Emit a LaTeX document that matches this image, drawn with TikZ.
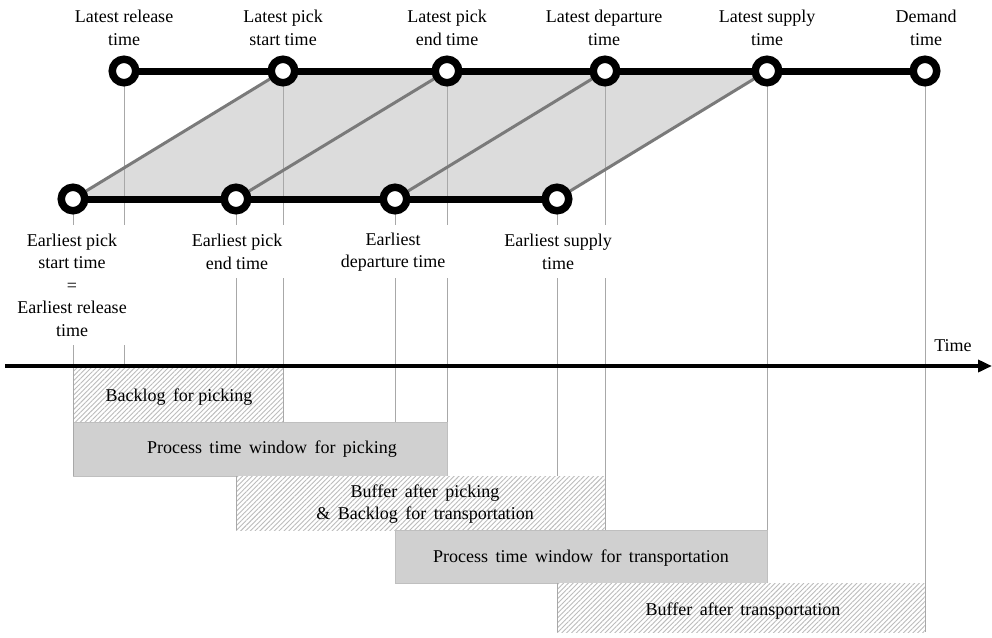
\documentclass[tikz,border=0pt]{standalone}
\usepackage{fontspec}
\setmainfont{Liberation Serif}
\usetikzlibrary{arrows.meta,patterns.meta}
\definecolor{guide}{HTML}{A8A8A8}
\definecolor{diag}{HTML}{7A7A7A}
\definecolor{para}{HTML}{DCDCDC}
\definecolor{procfill}{HTML}{D0D0D0}
\definecolor{hatchc}{HTML}{BCBCBC}
\tikzset{
  every node/.style={font=\fontsize{18}{22.5}\selectfont, align=center, inner sep=0pt},
  tnode/.style={circle, draw=black, fill=white, line width=7.5pt, minimum size=23.5pt, inner sep=0pt},
  thick line/.style={line width=7pt},
  diagline/.style={draw=diag, line width=3pt},
  guideline/.style={draw=guide, line width=1pt},
  hatchbox/.style={fill=white, postaction={pattern={Lines[angle=45,distance=3.4pt,line width=0.9pt]}, pattern color=hatchc}},
  procbox/.style={fill=procfill, draw=procfill!92!black, line width=0.6pt},
}
\begin{document}
\begin{tikzpicture}[x=1pt,y=-1pt]
\useasboundingbox (0,0) rectangle (992,637);
% key coordinates
\coordinate (l1) at (124,71);
\coordinate (l2) at (283,71);
\coordinate (l3) at (447,71);
\coordinate (l4) at (605,71);
\coordinate (l5) at (767,71);
\coordinate (l6) at (925,71);
\coordinate (e1) at (73,199);
\coordinate (e2) at (236,199);
\coordinate (e3) at (395,199);
\coordinate (e4) at (557,199);
% parallelogram
\fill[para] (e1) -- (l2) -- (l5) -- (e4) -- cycle;
% guide lines
\draw[guideline] (l1) -- (124,225) (124,345) -- (124,366);
\draw[guideline] (l2) -- (283,225) (283,278) -- (283,422);
\draw[guideline] (l3) -- (447,225) (447,278) -- (447,476);
\draw[guideline] (l4) -- (605,225) (605,278) -- (605,530);
\draw[guideline] (l5) -- (767,583);
\draw[guideline] (l6) -- (925,632);
\draw[guideline] (e1) -- (73,225) (73,345) -- (73,476);
\draw[guideline] (e2) -- (236,225) (236,278) -- (236,530);
\draw[guideline] (e3) -- (395,225) (395,278) -- (395,583);
\draw[guideline] (e4) -- (557,225) (557,278) -- (557,632);
% diagonals
\draw[diagline] (e1) -- (l2);
\draw[diagline] (e2) -- (l3);
\draw[diagline] (e3) -- (l4);
\draw[diagline] (e4) -- (l5);
% thick timelines
\draw[thick line] (l1) -- (l6);
\draw[thick line] (e1) -- (e4);
% circles
\foreach \n in {l1,l2,l3,l4,l5,l6,e1,e2,e3,e4} {\node[tnode] (\n c) at (\n) {};}
% top labels
\node (tl1) at (124,28) {Latest release\\time};
\node (tl2) at (283,28) {Latest pick\\start time};
\node (tl3) at (447,28) {Latest pick\\end time};
\node (tl4) at (604,28) {Latest departure\\time};
\node (tl5) at (767,28) {Latest supply\\time};
\node (tl6) at (926,28) {Demand\\time};
% bottom labels
\node (bl1) at (72,285) {Earliest pick\\start time\\=\\Earliest release\\time};
\node (bl2) at (237,252) {Earliest pick\\end time};
\node (bl3) at (393,252) {Earliest\\departure time};
\node (bl4) at (558,252) {Earliest supply\\time};
% boxes
\path[hatchbox] (73,368) rectangle (283,422);
\path[procbox] (73,422) rectangle (447,476);
\path[hatchbox] (236,476) rectangle (605,530);
\path[procbox] (395,530) rectangle (767,583);
\path[hatchbox] (557,583) rectangle (925,632);
% box edges
\draw[guideline] (73,366) -- (73,476);
\draw[guideline] (283,366) -- (283,422);
\draw[guideline] (236,476) -- (236,530);
\draw[guideline] (557,583) -- (557,632);
\draw[guideline] (925,583) -- (925,632);
% time axis
\coordinate (ax0) at (5,366);
\coordinate (ax1) at (992,366);
\draw[line width=3.5pt, -{Triangle[length=14pt,width=12pt]}] (ax0) -- (ax1);
\node (timel) at (953,346) {Time};
% box texts
\node (t1) at (179,397) {Backlog\, for picking};
\node (t2) at (272,449) {Process\, time\, window\, for\, picking};
\node (t3) at (425,504) {Buffer\, after\, picking\\\&\, Backlog\, for\, transportation};
\node (t4) at (581,558) {Process\, time\, window\, for\, transportation};
\node (t5) at (743,611) {Buffer\, after\, transportation};
\end{tikzpicture}
\end{document}
